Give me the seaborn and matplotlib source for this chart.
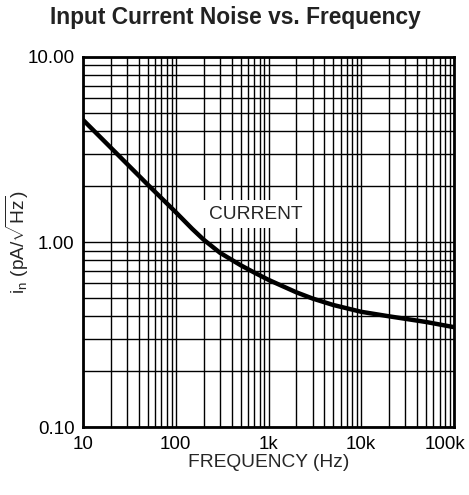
import matplotlib
matplotlib.use("Agg")
import matplotlib.pyplot as plt
import matplotlib.ticker as mticker
import matplotlib.transforms as mtransforms
import seaborn as sns
import pandas as pd

# values
freq_hz = [10, 20, 50, 100, 150, 200, 300, 500, 700, 1000, 2000, 3000,
           5000, 10000, 20000, 50000, 100000]
noise_pa = [4.57, 3.23, 2.04, 1.45, 1.18, 1.03, 0.875, 0.75, 0.685, 0.625,
            0.535, 0.495, 0.457, 0.42, 0.397, 0.37, 0.347]

x_ticks = [10, 100, 1000, 10000, 100000]
x_tick_labels = ["10", "100", "1k", "10k", "100k"]
y_ticks = [0.1, 1, 10]
y_tick_labels = ["0.10", "1.00", "10.00"]

df = pd.DataFrame({"freq": freq_hz, "noise": noise_pa})

sns.set_style("white")
plt.rcParams["font.family"] = ["Liberation Sans", "DejaVu Sans"]
plt.rcParams["mathtext.fontset"] = "custom"
plt.rcParams["mathtext.rm"] = "Liberation Sans"
plt.rcParams["mathtext.it"] = "Liberation Sans"

fig = plt.figure(figsize=(4.69, 4.95), dpi=100)
ax = fig.add_axes([0.177, 0.137, 0.791, 0.748])

ax.set_xscale("log")
ax.set_yscale("log")
ax.set_xlim(10, 100000)
ax.set_ylim(0.1, 10)

sns.lineplot(data=df, x="freq", y="noise", color="black", linewidth=3.2,
             ax=ax, zorder=3)

ax.xaxis.set_major_locator(mticker.FixedLocator(x_ticks))
ax.xaxis.set_major_formatter(mticker.FixedFormatter(x_tick_labels))
ax.xaxis.set_minor_locator(mticker.LogLocator(base=10, subs=range(2, 10)))
ax.xaxis.set_minor_formatter(mticker.NullFormatter())
ax.yaxis.set_major_locator(mticker.FixedLocator(y_ticks))
ax.yaxis.set_major_formatter(mticker.FixedFormatter(y_tick_labels))
ax.yaxis.set_minor_locator(mticker.LogLocator(base=10, subs=range(2, 10)))
ax.yaxis.set_minor_formatter(mticker.NullFormatter())

ax.grid(which="both", color="black", linewidth=1.0)
ax.tick_params(which="both", length=0, labelsize=13.5, colors="black")
ax.tick_params(axis="x", pad=6.5)
ax.tick_params(axis="y", pad=6)
for s in ax.spines.values():
    s.set_linewidth(2)
    s.set_color("black")

# last x label sits a bit left so it stays inside the figure
last = ax.get_xticklabels()[-1]
last.set_transform(last.get_transform() +
                   mtransforms.ScaledTranslation(-0.09, 0, fig.dpi_scale_trans))

ax.text(724, 1.41, "CURRENT", fontsize=13.8, ha="center", va="center",
        bbox=dict(facecolor="white", edgecolor="none", pad=4), zorder=4)

ax.set_xlabel("FREQUENCY (Hz)", fontsize=13.8, labelpad=0.5)
ax.set_ylabel(r"i$_\mathregular{n}$ (pA/$\sqrt{\mathregular{Hz}}$)",
              fontsize=13.8)
ax.yaxis.set_label_coords(-0.14, 0.5)
fig.text(0.501, 0.965, "Input Current Noise vs. Frequency", fontsize=16.4,
         fontweight="bold", ha="center", va="center", color="#222222")

fig.savefig("out.png", dpi=100)
